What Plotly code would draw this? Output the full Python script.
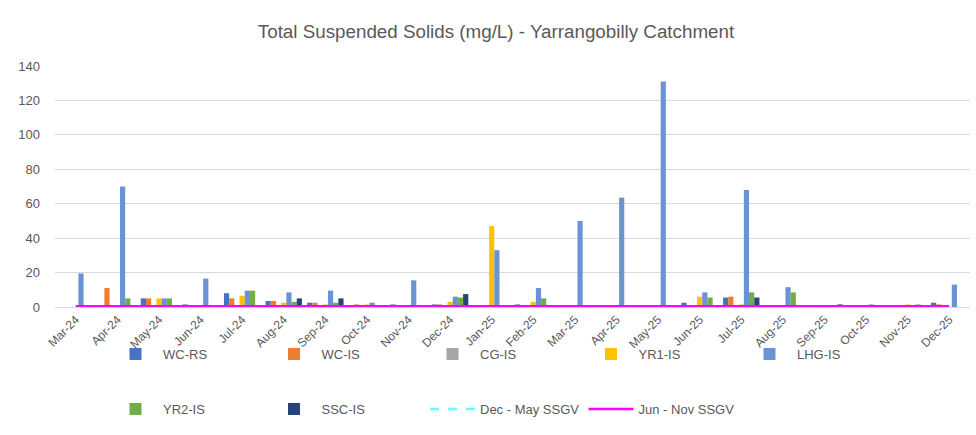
import plotly.graph_objects as go

months = ["Mar-24", "Apr-24", "May-24", "Jun-24", "Jul-24", "Aug-24", "Sep-24", "Oct-24",
          "Nov-24", "Dec-24", "Jan-25", "Feb-25", "Mar-25", "Apr-25", "May-25", "Jun-25",
          "Jul-25", "Aug-25", "Sep-25", "Oct-25", "Nov-25", "Dec-25"]

wc_rs = [None, None, 5, 1.5, 8, 3.5, 2.5, None, 1.5, 1.5, None, 1.5, None, None, None, 2.5, 5.5, None, None, None, None, 2.5]
wc_is = [None, 11, 5, None, 5, 3.5, 2.5, 1.5, None, 1.5, None, None, None, None, None, None, 6, None, None, None, None, 1.5]
cg_is = [None] * 22
yr1_is = [None, None, 5, None, 6.5, 2.5, 1.5, 1.5, None, 3, 47, 3, None, None, None, 6, 1.5, None, None, None, 1.5, None]
lhg_is = [19.5, 70, 5, 16.5, 9.5, 8.5, 9.5, 2.5, 15.5, 6, 33, 11, 50, 63.5, 131, 8.5, 68, 11.5, None, 1.5, None, 13]
yr2_is = [None, 5, 5, None, 9.5, 3, 2.5, None, None, 5.5, None, 5, None, None, None, 5.5, 8.5, 8.5, None, None, 1.5, None]
ssc_is = [None, None, None, None, None, 5, 5, None, None, 7.5, None, None, None, None, None, None, 5.5, None, 1.5, None, None, None]
dec_may_ssgv = [0.4] * 22
jun_nov_ssgv = [0.4] * 22

bar_series = [
    ("WC-RS", wc_rs, "#4472C4", "legend"),
    ("WC-IS", wc_is, "#ED7D31", "legend"),
    ("CG-IS", cg_is, "#A5A5A5", "legend"),
    ("YR1-IS", yr1_is, "#FFC000", "legend"),
    ("LHG-IS", lhg_is, "#6A93D4", "legend"),
    ("YR2-IS", yr2_is, "#70AD47", "legend2"),
    ("SSC-IS", ssc_is, "#264478", "legend2"),
]

fig = go.Figure()
for name, vals, col, lg in bar_series:
    fig.add_trace(go.Bar(x=months, y=vals, name=name, marker=dict(color=col, line=dict(width=0)),
                         legend=lg))

fig.add_trace(go.Scatter(x=months, y=dec_may_ssgv, name="Dec - May SSGV", mode="lines",
                         line=dict(color="#66FFFF", width=2.5, dash="dash"), legend="legend2"))
fig.add_trace(go.Scatter(x=months, y=jun_nov_ssgv, name="Jun - Nov SSGV", mode="lines",
                         line=dict(color="#FF00FF", width=2.5), legend="legend2"))

txt = "#595959"
font_family = "Liberation Sans, Arial, sans-serif"
legend_common = dict(orientation="h", xref="container", yref="container", xanchor="left",
                     yanchor="top", itemwidth=45, entrywidth=98.5, entrywidthmode="pixels",
                     font=dict(size=13, color=txt, family=font_family),
                     bgcolor="rgba(0,0,0,0)", borderwidth=0, traceorder="normal")

fig.update_layout(
    width=976, height=435,
    margin=dict(l=55, r=6, t=66, b=128, autoexpand=False),
    paper_bgcolor="white", plot_bgcolor="white",
    barmode="group", bargap=0.125, bargroupgap=0,
    font=dict(family=font_family, color=txt),
    title=dict(text="Total Suspended Solids (mg/L) - Yarrangobilly Catchment",
               x=496 / 976, xref="container", xanchor="center",
               y=1 - 31 / 435, yref="container", yanchor="middle",
               font=dict(size=18.8, color=txt, family=font_family)),
    legend=dict(x=108 / 976, y=1 - 339 / 435, **legend_common),
    legend2=dict(x=108 / 976, y=1 - 394 / 435, **legend_common),
    showlegend=True,
)

fig.update_xaxes(type="category", tickangle=-45, showgrid=False, ticks="", automargin=False,
                 showline=True, linecolor="#D9D9D9", linewidth=1,
                 tickfont=dict(size=12, color=txt, family=font_family))
fig.update_yaxes(range=[0, 140], dtick=20, showgrid=True, gridcolor="#D9D9D9", gridwidth=1,
                 zeroline=False, showline=False, ticks="", ticklabelstandoff=14, automargin=False,
                 tickfont=dict(size=13, color=txt, family=font_family))

fig.write_html("out.html", config={"displayModeBar": False},
               post_script="document.body.style.margin='0';")
